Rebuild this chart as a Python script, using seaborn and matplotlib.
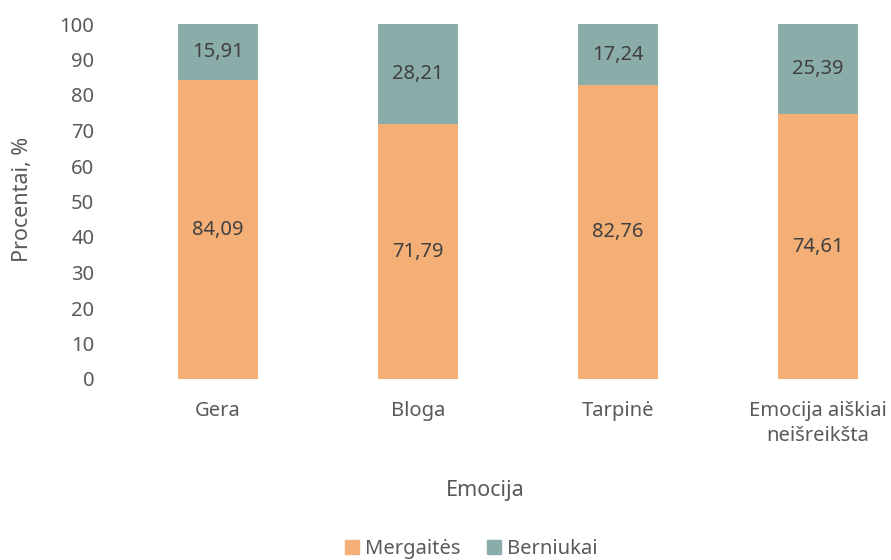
import matplotlib
matplotlib.use("Agg")
import matplotlib.pyplot as plt
import seaborn as sns
import pandas as pd
from matplotlib.patches import Patch

categories = ["Gera", "Bloga", "Tarpinė", "Emocija aiškiai\nneišreikšta"]
mergaites = [84.09, 71.79, 82.76, 74.61]
berniukai = [15.91, 28.21, 17.24, 25.39]

ORANGE = "#F4AF77"
TEAL = "#8BADAA"
TXT = "#595959"

sns.set_theme(style="white")
plt.rcParams["font.family"] = ["Noto Sans", "DejaVu Sans"]

df = pd.DataFrame({"cat": categories, "m": mergaites, "b": berniukai})
df["total"] = df["m"] + df["b"]

fig = plt.figure(figsize=(8.91, 5.6), dpi=100)
ax = fig.add_axes([118 / 891, 1 - 379 / 560, (891 - 118) / 891, 355 / 560])

sns.barplot(data=df, x="cat", y="total", color=TEAL, width=0.4, ax=ax,
            saturation=1, linewidth=0)
sns.barplot(data=df, x="cat", y="m", color=ORANGE, width=0.4, ax=ax,
            saturation=1, linewidth=0)

for i, (m, b) in enumerate(zip(mergaites, berniukai)):
    ax.text(i, m / 2, f"{m:.2f}".replace(".", ","), ha="center", va="center",
            fontsize=14.5, color="#404040")
    ax.text(i, m + b / 2, f"{b:.2f}".replace(".", ","), ha="center", va="center",
            fontsize=14.5, color="#404040")

ax.set_xlim(-0.5, 3 + 73 / 200)
ax.set_ylim(0, 100)
ax.set_yticks(range(0, 101, 10))
ax.tick_params(axis="both", colors=TXT, labelsize=14.5, length=0)
ax.tick_params(axis="y", pad=17)
ax.tick_params(axis="x", pad=16)
for lbl in ax.get_xticklabels():
    lbl.set_linespacing(1.35)
for s in ax.spines.values():
    s.set_visible(False)

ax.set_xlabel("Emocija", fontsize=15.5, color=TXT)
ax.xaxis.set_label_coords((485 - 118) / (891 - 118), (379 - 490) / 355)
ax.set_ylabel("Procentai, %", fontsize=15.5, color=TXT)
ax.yaxis.set_label_coords((23 - 118) / (891 - 118), (379 - 199) / 355)
ax.xaxis.label.set_va("center")
ax.yaxis.label.set_va("center")

handles = [Patch(color=ORANGE, label="Mergaitės"), Patch(color=TEAL, label="Berniukai")]
fig.legend(handles=handles, loc="center", bbox_to_anchor=(471 / 891, 1 - 549 / 560),
           ncol=2, frameon=False, fontsize=14.5, labelcolor=TXT,
           handlelength=0.7, handleheight=0.7, handletextpad=0.3, columnspacing=1.3)

fig.savefig("out.png", dpi=100)
